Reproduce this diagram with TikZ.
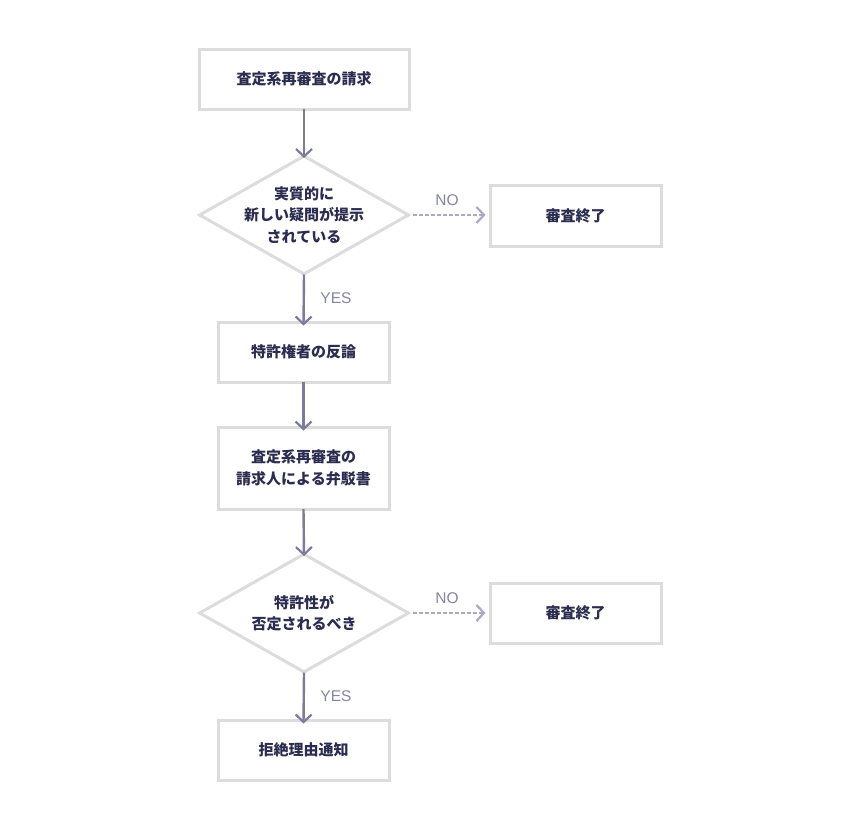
\documentclass[tikz,border=0pt]{standalone}
\usepackage{fontspec}
\setmainfont{Noto Sans CJK JP}
\newfontfamily\latinlbl{Liberation Sans}
\usetikzlibrary{arrows.meta,shapes.geometric}
\definecolor{boxline}{HTML}{DCDCDC}
\definecolor{txt}{HTML}{2B2D50}
\definecolor{arr}{HTML}{7C7B9E}
\definecolor{arrlight}{HTML}{ABAAC3}
\definecolor{lbl}{HTML}{8584A3}
\tikzset{
  boxnode/.style={draw=boxline,line width=3pt,rectangle,inner sep=0pt},
  dianode/.style={draw=boxline,line width=3pt,diamond,aspect=1.765,inner sep=0pt,minimum width=210pt,minimum height=119pt},
  txtnode/.style={text=txt,font=\fontsize{15}{21.5}\selectfont\bfseries,align=center},
  flow/.style={draw=arr,line width=2.4pt,-{Straight Barb[length=7.5pt,width=16pt,line width=2.2pt]}},
  noflow/.style={draw=arrlight,line width=2.6pt,dash pattern=on 4pt off 2pt,-{Straight Barb[length=7.5pt,width=16pt,line width=2.2pt]}},
  lblnode/.style={text=lbl,font=\latinlbl\fontsize{15.5}{17}\selectfont}
}
\begin{document}
\begin{tikzpicture}[x=1pt,y=-1pt]
\useasboundingbox[fill=white] (0,0) rectangle (860,830);
% boxes
\node[boxnode,minimum width=210pt,minimum height=60pt] (b1) at (304,79) {};
\node[txtnode] (t1) at (b1) {査定系再審査の請求};
\node[dianode] (d1) at (304,215) {};
\node[txtnode] (t2) at (d1) {実質的に\\新しい疑問が提示\\されている};
\node[boxnode,minimum width=171pt,minimum height=61pt] (e1) at (575.5,215.5) {};
\node[txtnode] (t3) at (e1) {審査終了};
\node[boxnode,minimum width=171pt,minimum height=60pt] (b2) at (303.5,352) {};
\node[txtnode] (t4) at (b2) {特許権者の反論};
\node[boxnode,minimum width=171pt,minimum height=82pt] (b3) at (303.5,468) {};
\node[txtnode] (t5) at (b3) {査定系再審査の\\請求人による弁駁書};
\node[dianode] (d2) at (304,613) {};
\node[txtnode] (t6) at (d2) {特許性が\\否定されるべき};
\node[boxnode,minimum width=171pt,minimum height=60pt] (e2) at (575.5,613) {};
\node[txtnode] (t7) at (e2) {審査終了};
\node[boxnode,minimum width=171pt,minimum height=60pt] (b4) at (303.5,750) {};
\node[txtnode] (t8) at (b4) {拒絶理由通知};
% connectors
\draw[flow] ([yshift=1.5pt]b1.south) -- ([yshift=-4pt]d1.north);
\draw[flow] ([yshift=1.5pt]d1.south) -- ([yshift=-5pt]b2.north);
\draw[flow] ([yshift=1.5pt]b2.south) -- ([yshift=-5pt]b3.north);
\draw[flow] ([yshift=1.5pt]b3.south) -- ([yshift=-4pt]d2.north);
\draw[flow] ([yshift=1.5pt]d2.south) -- ([yshift=-5pt]b4.north);
\draw[noflow] ([xshift=2pt]d1.east) -- ([xshift=-3pt]e1.west |- d1.east);
\draw[noflow] ([xshift=2pt]d2.east) -- ([xshift=-3pt]e2.west |- d2.east);
% labels
\node[lblnode] (n1) at (447,200) {NO};
\node[lblnode] (n2) at (447,598) {NO};
\node[lblnode] (y1) at (336,298) {YES};
\node[lblnode] (y2) at (336,696) {YES};
\end{tikzpicture}
\end{document}
